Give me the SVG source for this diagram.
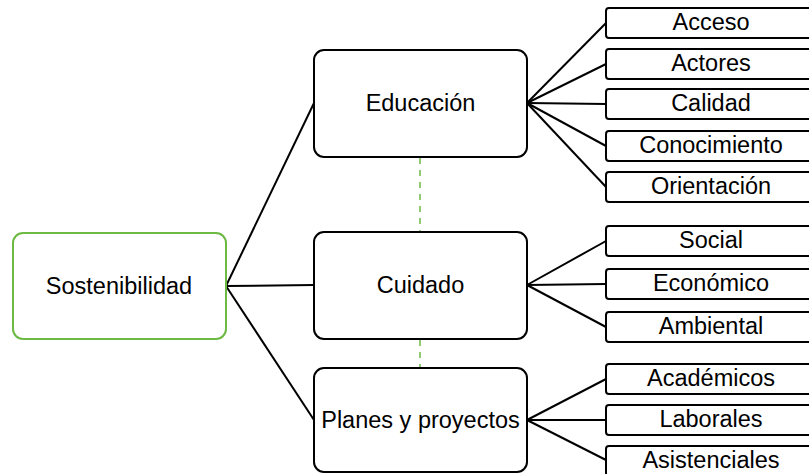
<svg xmlns="http://www.w3.org/2000/svg" width="809" height="474" viewBox="0 0 809 474">
<style>
.main{fill:#fff;stroke:#000;stroke-width:2}
.root{fill:#fff;stroke:#6cb944;stroke-width:2}
.leaf{fill:#fff;stroke:#000;stroke-width:2}
text{font-family:"Liberation Sans",Arial,sans-serif;font-size:23.5px;fill:#000;text-anchor:middle}
.lt{font-size:23.5px}
.c{fill:none;stroke:#000;stroke-width:2}
.d{fill:none;stroke:#6cb944;stroke-width:1.5;stroke-dasharray:6 6}
</style>
<rect width="809" height="474" fill="#fff"/>
<g id="connectors">
<line class="c" x1="226" y1="286" x2="314" y2="103"/>
<line class="c" x1="226" y1="286" x2="314" y2="285"/>
<line class="c" x1="226" y1="286" x2="314" y2="420"/>
<line class="c" x1="527" y1="103" x2="606" y2="23"/>
<line class="c" x1="527" y1="103" x2="606" y2="64"/>
<line class="c" x1="527" y1="103" x2="606" y2="104"/>
<line class="c" x1="527" y1="103" x2="606" y2="146"/>
<line class="c" x1="527" y1="103" x2="606" y2="187"/>
<line class="c" x1="527" y1="285" x2="606" y2="241"/>
<line class="c" x1="527" y1="285" x2="606" y2="284"/>
<line class="c" x1="527" y1="285" x2="606" y2="327"/>
<line class="c" x1="527" y1="420" x2="606" y2="379"/>
<line class="c" x1="527" y1="420" x2="606" y2="420"/>
<line class="c" x1="527" y1="420" x2="606" y2="460"/>
<line class="d" x1="420" y1="158" x2="420" y2="231"/>
<line class="d" x1="420" y1="340" x2="420" y2="367"/>
</g>
<g id="n-sostenibilidad"><rect class="root" x="13" y="233" width="213" height="106" rx="10"/><text x="119" y="294">Sostenibilidad</text></g>
<g id="n-educacion"><rect class="main" x="314" y="50" width="213" height="107" rx="10"/><text x="420.5" y="111">Educación</text></g>
<g id="n-cuidado"><rect class="main" x="314" y="232" width="213" height="107" rx="10"/><text x="420.5" y="293">Cuidado</text></g>
<g id="n-planes"><rect class="main" x="314" y="368" width="213" height="104" rx="10"/><text x="420.5" y="428">Planes y proyectos</text></g>
<g id="n-acceso"><rect class="leaf" x="606" y="8" width="210" height="30" rx="3"/><text class="lt" x="711" y="30">Acceso</text></g>
<g id="n-actores"><rect class="leaf" x="606" y="49" width="210" height="30" rx="3"/><text class="lt" x="711" y="71">Actores</text></g>
<g id="n-calidad"><rect class="leaf" x="606" y="89" width="210" height="30" rx="3"/><text class="lt" x="711" y="111">Calidad</text></g>
<g id="n-conocimiento"><rect class="leaf" x="606" y="131" width="210" height="30" rx="3"/><text class="lt" x="711" y="153">Conocimiento</text></g>
<g id="n-orientacion"><rect class="leaf" x="606" y="172" width="210" height="30" rx="3"/><text class="lt" x="711" y="194">Orientación</text></g>
<g id="n-social"><rect class="leaf" x="606" y="226" width="210" height="30" rx="3"/><text class="lt" x="711" y="248">Social</text></g>
<g id="n-economico"><rect class="leaf" x="606" y="269" width="210" height="30" rx="3"/><text class="lt" x="711" y="291">Económico</text></g>
<g id="n-ambiental"><rect class="leaf" x="606" y="312" width="210" height="30" rx="3"/><text class="lt" x="711" y="334">Ambiental</text></g>
<g id="n-academicos"><rect class="leaf" x="606" y="364" width="210" height="30" rx="3"/><text class="lt" x="711" y="386">Académicos</text></g>
<g id="n-laborales"><rect class="leaf" x="606" y="405" width="210" height="30" rx="3"/><text class="lt" x="711" y="427">Laborales</text></g>
<g id="n-asistenciales"><rect class="leaf" x="606" y="446" width="210" height="30" rx="3"/><text class="lt" x="711" y="468">Asistenciales</text></g>
</svg>
